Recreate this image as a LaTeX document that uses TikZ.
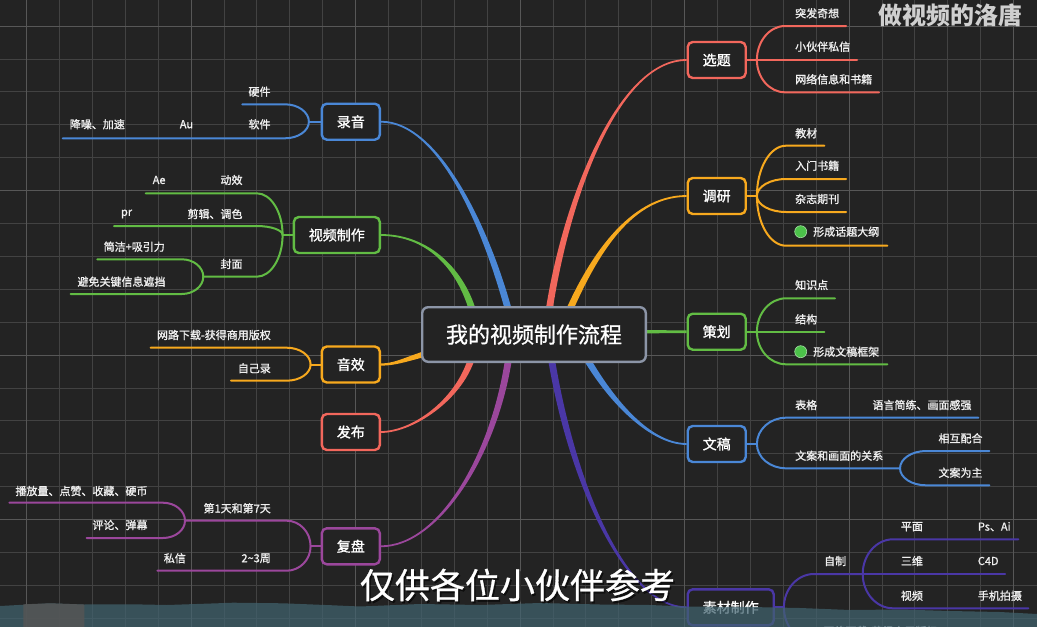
\documentclass[tikz,border=0pt]{standalone}
\usepackage{fontspec}
\setmainfont{Noto Sans CJK SC}
\newfontfamily\medfont{Noto Sans CJK SC}[FakeBold=1.2]
\newfontfamily\titfont{Noto Sans CJK SC}[FakeBold=0.8]
\usetikzlibrary{calc}
\definecolor{bg}{HTML}{232323}
\definecolor{gridminor}{HTML}{424242}
\definecolor{gridmajor}{HTML}{575757}
\definecolor{cred}{HTML}{F2675C}
\definecolor{corange}{HTML}{F7A91E}
\definecolor{cgreen}{HTML}{62BC44}
\definecolor{cblue}{HTML}{4A87D6}
\definecolor{cpurple}{HTML}{9B479C}
\definecolor{cindigo}{HTML}{4A37A6}
\definecolor{ccenter}{HTML}{8C95A7}
\definecolor{labelc}{HTML}{F0F0F0}
\definecolor{bandc}{HTML}{41636F}
\definecolor{blockc}{HTML}{555555}
\definecolor{dotg}{HTML}{4CC24A}
\definecolor{wmc}{HTML}{CFCFCF}
\pgfdeclarelayer{back}
\pgfsetlayers{back,main}
% tapered main branch: #1 start, #2 ctrl1, #3 ctrl2, #4 end, #5 half width start, #6 half width end, #7 colour
\newcommand\taperline[7]{%
  \coordinate (tA) at #1; \coordinate (tB) at #2; \coordinate (tC) at #3; \coordinate (tD) at #4;
  \coordinate (tAp) at ($(tA)!#5!90:(tB)$);
  \coordinate (tAm) at ($(tA)!#5!-90:(tB)$);
  \coordinate (tDp) at ($(tD)!#6!-90:(tC)$);
  \coordinate (tDm) at ($(tD)!#6!90:(tC)$);
  \fill[#7] (tAp) .. controls ($(tB)+(tAp)-(tA)$) and ($(tC)+(tDp)-(tD)$) .. (tDp)
     -- (tDm) .. controls ($(tC)+(tDm)-(tD)$) and ($(tB)+(tAm)-(tA)$) .. (tAm) -- cycle;
}
% bracket branch: #1 colour, #2 fork coordinate, #3 #4 curve end, #5 line end x
\newcommand\brR[5]{%
  \path (#2) coordinate (bf) (#3,#4) coordinate (be);
  \draw[cl,#1] (bf) .. controls ($(bf)!0.55!(bf|-be)$) and ($(be)!0.55!(bf|-be)$) .. (be) -- (#5,#4);
}
\begin{document}
\begin{tikzpicture}[x=1pt,y=-1pt,
  topic/.style={draw, line width=2.4pt, rounded corners=5pt, fill=bg, text=white,
    font=\medfont\fontsize{14}{16}\selectfont, inner xsep=15pt, inner ysep=0pt, minimum height=36pt},
  rootnode/.style={draw=ccenter, line width=2.4pt, rounded corners=6pt, fill=bg, text=white,
    font=\titfont\fontsize{22}{24}\selectfont, inner xsep=23.8pt, inner ysep=0pt, minimum height=54.6pt},
  lbl/.style={text=labelc, font=\medfont\fontsize{11}{13}\selectfont, inner sep=0pt},
  cl/.style={line width=2pt, line cap=round},
  gdot/.style={circle, fill=dotg, draw=dotg!50!white, line width=0.6pt, minimum size=12pt, inner sep=0pt}
]
\useasboundingbox (0,0) rectangle (1037,627);
\clip (0,0) rectangle (1037,627);

\begin{pgfonlayer}{back}
\fill[bg] (0,0) rectangle (1037,627);
\foreach \i in {0,...,31} {
  \pgfmathsetmacro\gx{26.5+32.9*\i}
  \draw[gridminor, line width=0.8pt] (\gx,0) -- (\gx,627);
}
\foreach \j in {0,...,18} {
  \pgfmathsetmacro\gy{26+32.9*\j}
  \draw[gridminor, line width=0.8pt] (0,\gy) -- (1037,\gy);
}
\foreach \i in {0,5,...,30} {
  \pgfmathsetmacro\gx{26.5+32.9*\i}
  \draw[gridmajor, line width=0.8pt] (\gx,0) -- (\gx,627);
}
\foreach \j in {0,5,...,15} {
  \pgfmathsetmacro\gy{26+32.9*\j}
  \draw[gridmajor, line width=0.8pt] (0,\gy) -- (1037,\gy);
}
\end{pgfonlayer}

% central and main topics
\node[rootnode] (root) at (534,334.5) {我的视频制作流程};
\node[topic, draw=cred, anchor=west] (xuanti) at (686.5,60) {选题};
\node[topic, draw=corange, anchor=west] (diaoyan) at (686.5,196) {调研};
\node[topic, draw=cgreen, anchor=west] (cehua) at (686.5,331.7) {策划};
\node[topic, draw=cblue, anchor=west] (wengao) at (686.5,444) {文稿};
\node[topic, draw=cindigo, anchor=west] (sucai) at (686.5,607.3) {素材制作};
\node[topic, draw=cblue, anchor=east] (luyin) at (381,121.7) {录音};
\node[topic, draw=cgreen, anchor=east] (shipin) at (381,235) {视频制作};
\node[topic, draw=corange, anchor=east] (yinxiao) at (381,364.5) {音效};
\node[topic, draw=cred, anchor=east] (fabu) at (381,432) {发布};
\node[topic, draw=cpurple, anchor=east] (fupan) at (381,546.3) {复盘};

\begin{pgfonlayer}{back}
\taperline{(548,318)}{(563,210)}{(615,60)}{(xuanti.west)}{3.4pt}{0.9pt}{cred}
\taperline{(566,318)}{(590,262)}{(628,196)}{(diaoyan.west)}{3.4pt}{0.9pt}{corange}
\taperline{(640,331.7)}{(655,331.7)}{(670,331.7)}{(cehua.west)}{1.7pt}{1.3pt}{cgreen}
\taperline{(578,343)}{(605,395)}{(648,444)}{(wengao.west)}{3.4pt}{0.9pt}{cblue}
\taperline{(550,350)}{(570,480)}{(625,607.3)}{(sucai.west)}{3.4pt}{0.9pt}{cindigo}
\taperline{(510,348)}{(498,450)}{(440,546.3)}{(fupan.east)}{3.4pt}{0.9pt}{cpurple}
\taperline{(474,348)}{(466,395)}{(415,432)}{(fabu.east)}{3.4pt}{0.9pt}{cred}
\taperline{(440,350)}{(410,357)}{(398,364.5)}{(yinxiao.east)}{3.0pt}{1.1pt}{corange}
\taperline{(474,316)}{(463,272)}{(430,235)}{(shipin.east)}{3.4pt}{0.9pt}{cgreen}
\taperline{(510,316)}{(488,232)}{(440,121.7)}{(luyin.east)}{3.4pt}{0.9pt}{cblue}
\end{pgfonlayer}

% ---------- right side ----------
% 选题
\coordinate (F1) at ($(xuanti.east)+(10,0)$);
\draw[cl,cred] (xuanti.east) -- (F1);
\brR{cred}{F1}{785}{26}{846}
\draw[cl,cred] (F1) -- (857,60);
\brR{cred}{F1}{785}{92.3}{879}
\node[lbl,anchor=west] (x1) at (795,13.3) {突发奇想};
\node[lbl,anchor=west] (x2) at (795,46.7) {小伙伴私信};
\node[lbl,anchor=west] (x3) at (795,79.3) {网络信息和书籍};

% 调研
\coordinate (F2) at ($(diaoyan.east)+(10,0)$);
\draw[cl,corange] (diaoyan.east) -- (F2);
\brR{corange}{F2}{786}{145.7}{824.3}
\brR{corange}{F2}{786}{179}{846}
\brR{corange}{F2}{786}{212}{846}
\brR{corange}{F2}{786}{245.7}{887.3}
\node[lbl,anchor=west] (d1) at (795,133.3) {教材};
\node[lbl,anchor=west] (d2) at (795,165.7) {入门书籍};
\node[lbl,anchor=west] (d3) at (795,199) {杂志期刊};
\node[gdot] (dot1) at (800.7,231.7) {};
\node[lbl,anchor=west] (d4) at (813,231.7) {形成话题大纲};

% 策划
\coordinate (F3) at ($(cehua.east)+(10,0)$);
\draw[cl,cgreen] (cehua.east) -- (F3);
\brR{cgreen}{F3}{786}{298.3}{835}
\draw[cl,cgreen] (F3) -- (824.3,331.7);
\brR{cgreen}{F3}{786}{364.3}{887.3}
\node[lbl,anchor=west] (c1) at (795,285) {知识点};
\node[lbl,anchor=west] (c2) at (795,319.3) {结构};
\node[gdot] (dot2) at (800.7,351.7) {};
\node[lbl,anchor=west] (c3) at (813,351.7) {形成文稿框架};

% 文稿
\coordinate (F4) at ($(wengao.east)+(10,0)$);
\draw[cl,cblue] (wengao.east) -- (F4);
\brR{cblue}{F4}{786}{417.7}{978.3}
\brR{cblue}{F4}{786}{468.3}{900}
\coordinate (S4) at (900,468.3);
\brR{cblue}{S4}{926}{451}{989.3}
\brR{cblue}{S4}{926}{485.3}{989.3}
\node[lbl,anchor=west] (w1) at (795,405) {表格};
\node[lbl,anchor=west] (w2) at (872.3,405) {语言简练、画面感强};
\node[lbl,anchor=west] (w3) at (795,455.7) {文案和画面的关系};
\node[lbl,anchor=west] (w4) at (938.3,438.3) {相互配合};
\node[lbl,anchor=west] (w5) at (938.3,472.7) {文案为主};

% 素材制作
\coordinate (F5) at ($(sucai.east)+(9,0)$);
\draw[cl,cindigo] (sucai.east) -- (F5);
\brR{cindigo}{F5}{814}{574}{862.7}
\coordinate (S5) at (862.7,574);
\brR{cindigo}{S5}{893}{539.3}{1018.3}
\draw[cl,cindigo] (S5) -- (1005,574);
\brR{cindigo}{S5}{893}{608.3}{1028.3}
\brR{cindigo}{F5}{814}{642}{940}
\node[lbl,anchor=west] (s1) at (824,561) {自制};
\node[lbl,anchor=west] (s2) at (900.7,526.7) {平面};
\node[lbl,anchor=west] (s3) at (977.7,526.7) {Ps、Ai};
\node[lbl,anchor=west] (s4) at (900.7,561) {三维};
\node[lbl,anchor=west] (s5) at (977.7,561) {C4D};
\node[lbl,anchor=west] (s6) at (900.7,595.7) {视频};
\node[lbl,anchor=west] (s7) at (977.7,595.7) {手机拍摄};
\node[lbl,anchor=west] (s8) at (823.3,631) {网络下载-获得商用版权};

% ---------- left side ----------
% 录音
\coordinate (L1) at ($(luyin.west)+(-11.7,0)$);
\draw[cl,cblue] (luyin.west) -- (L1);
\brR{cblue}{L1}{285}{104.3}{242.3}
\brR{cblue}{L1}{285}{138.3}{62.7}
\node[lbl,anchor=east] (r1) at (270.7,91.7) {硬件};
\node[lbl,anchor=east] (r2) at (270.7,124.3) {软件};
\node[lbl,anchor=east] (r3) at (193.3,124.3) {Au};
\node[lbl,anchor=east] (r4) at (125,124.3) {降噪、加速};

% 视频制作
\coordinate (L2) at ($(shipin.west)+(-10,0)$);
\draw[cl,cgreen] (shipin.west) -- (L2);
\brR{cgreen}{L2}{256.7}{193.3}{145.7}
\brR{cgreen}{L2}{256.7}{226}{114}
\brR{cgreen}{L2}{256.7}{276.7}{203.3}
\coordinate (S2) at (203.3,276.7);
\brR{cgreen}{S2}{181.7}{259.3}{97.3}
\brR{cgreen}{S2}{181.7}{294}{70.7}
\node[lbl,anchor=east] (v1) at (242.7,180) {动效};
\node[lbl,anchor=east] (v2) at (165.7,180) {Ae};
\node[lbl,anchor=east] (v3) at (242.7,214) {剪辑、调色};
\node[lbl,anchor=east] (v4) at (132.3,214) {pr};
\node[lbl,anchor=east] (v5) at (242.7,264) {封面};
\node[lbl,anchor=east] (v6) at (165,246.7) {简洁+吸引力};
\node[lbl,anchor=east] (v7) at (165.7,281.7) {避免关键信息遮挡};

% 音效
\coordinate (L3) at ($(yinxiao.west)+(-10,0)$);
\draw[cl,corange] (yinxiao.west) -- (L3);
\brR{corange}{L3}{286.7}{347.7}{150.7}
\brR{corange}{L3}{286.7}{380.7}{231}
\node[lbl,anchor=east] (y1) at (271,335) {网路下载-获得商用版权};
\node[lbl,anchor=east] (y2) at (271,368.3) {自己录};

% 复盘
\coordinate (L4) at ($(fupan.west)+(-10,0)$);
\draw[cl,cpurple] (fupan.west) -- (L4);
\brR{cpurple}{L4}{286.7}{520.7}{185}
\coordinate (S6) at (185,520.7);
\brR{cpurple}{S6}{163}{502.7}{9.3}
\brR{cpurple}{S6}{163}{538}{86.7}
\brR{cpurple}{L4}{286.7}{570.7}{157.3}
\node[lbl,anchor=east] (p1) at (271,508.3) {第1天和第7天};
\node[lbl,anchor=east] (p2) at (147.7,491) {播放量、点赞、收藏、硬币};
\node[lbl,anchor=east] (p3) at (147.7,525) {评论、弹幕};
\node[lbl,anchor=east] (p4) at (271,558.3) {2\textasciitilde 3周};
\node[lbl,anchor=east] (p5) at (186,558.3) {私信};

% watermark
\node[text=wmc, font=\bfseries\fontsize{24}{26}\selectfont, inner sep=0pt] (wm) at (950,15) {做视频的洛唐};

% bottom overlay band
\fill[bandc, opacity=0.72] (0,606) -- (50,603.3) -- (83,604.5) -- (133,604.3) -- (167,605) -- (217,603.3)
  -- (233,602.7) -- (283,603.3) -- (333,605.3) -- (360,606.5) -- (420,604) -- (480,605) -- (540,603)
  -- (600,604.5) -- (650,605) -- (686,606.5) -- (750,607) -- (800,608) -- (850,610) -- (900,609.5)
  -- (950,611) -- (1000,612) -- (1037,614) -- (1037,627) -- (0,627) -- cycle;
\fill[blockc, opacity=0.85] (23.3,604.3) -- (50,603.3) -- (84.3,604.5) -- (84.3,627) -- (23.3,627) -- cycle;

% subtitle
\node[text=black, opacity=0.55, font=\titfont\fontsize{35}{40}\selectfont, inner sep=0pt] (subsh) at (519,587) {仅供各位小伙伴参考};
\node[text=white, font=\titfont\fontsize{35}{40}\selectfont, inner sep=0pt] (sub) at (517.5,585) {仅供各位小伙伴参考};
\end{tikzpicture}
\end{document}
